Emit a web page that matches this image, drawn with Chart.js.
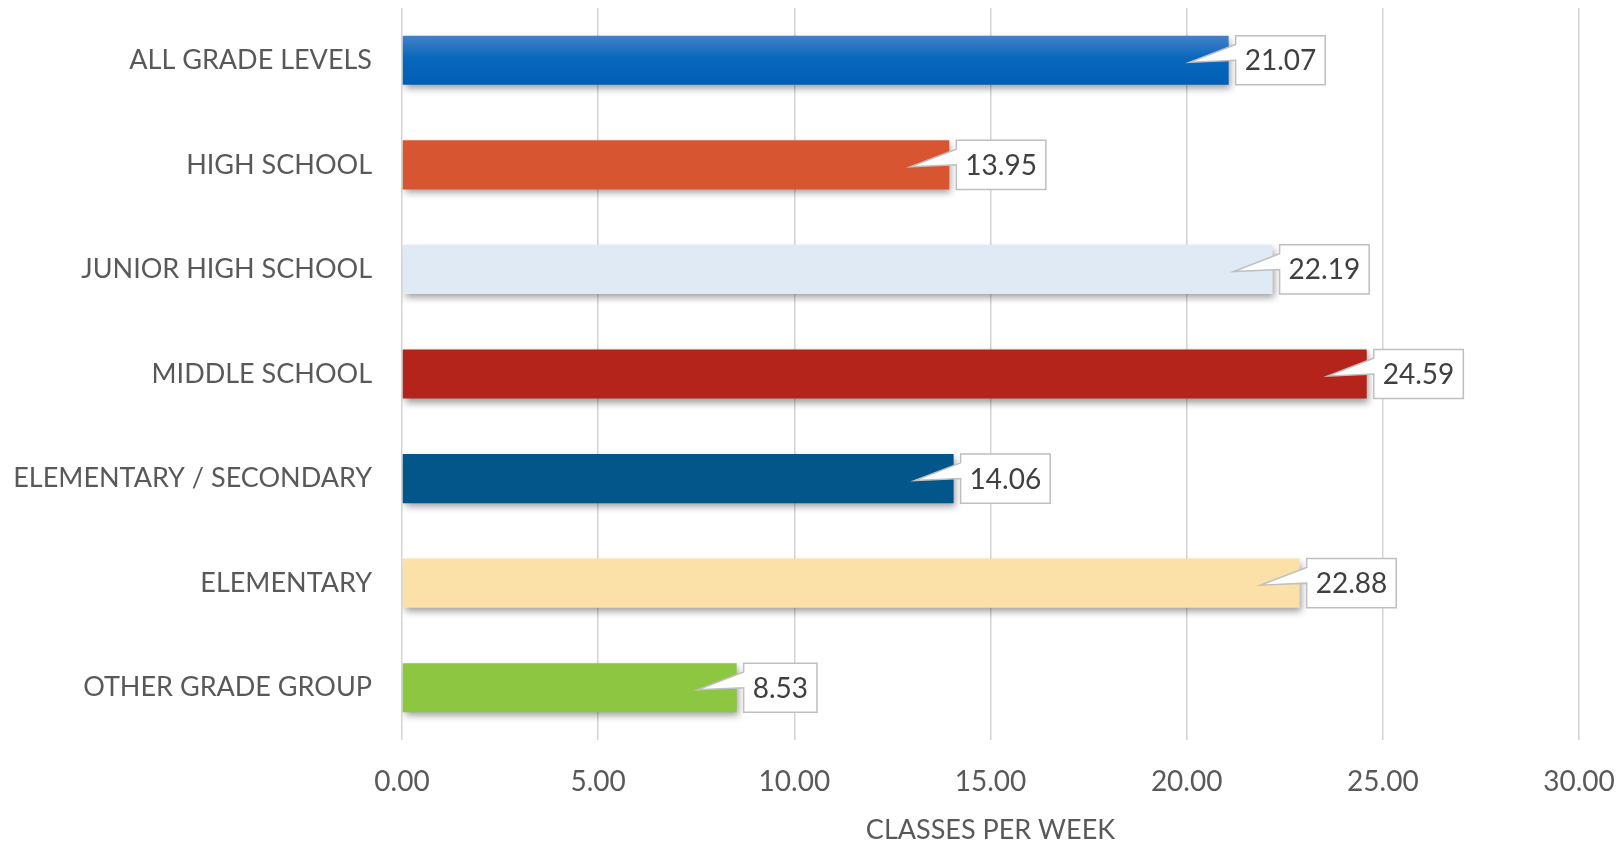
<!DOCTYPE html>
<html>
<head>
<meta charset="utf-8">
<script src="https://cdn.jsdelivr.net/npm/chart.js@4/dist/chart.umd.min.js"></script>
<style>
  html, body { margin: 0; padding: 0; background: #ffffff; }
  #wrap { width: 1618px; height: 843px; position: relative; }
</style>
</head>
<body>
<div id="wrap"><canvas id="c"></canvas></div>
<script>
const categories = [
  "ALL GRADE LEVELS",
  "HIGH SCHOOL",
  "JUNIOR HIGH SCHOOL",
  "MIDDLE SCHOOL",
  "ELEMENTARY / SECONDARY",
  "ELEMENTARY",
  "OTHER GRADE GROUP"
];
const classesPerWeek = [21.07, 13.95, 22.19, 24.59, 14.06, 22.88, 8.53];
const barColors = ["#0868bd", "#d85532", "#dfeaf4", "#b5241a", "#02568a", "#fbe1a8", "#8dc641"];
const xTicks = [0, 5, 10, 15, 20, 25, 30];
const axisTitle = "CLASSES PER WEEK";

const FONT = "Lato, 'Open Sans', sans-serif";
const TEXT = "#595959";
const BAR_PCT = 0.47;

function barFill(ctx) {
  const i = ctx.dataIndex;
  if (i !== 0) return barColors[i];
  const ys = ctx.chart.scales && ctx.chart.scales.y;
  if (!ys || !isFinite(ys.top) || ys.bottom - ys.top <= 0) return barColors[0];
  const cy = ys.getPixelForValue(0);
  const band = (ys.bottom - ys.top) / categories.length;
  const h = band * BAR_PCT;
  if (!isFinite(cy) || !isFinite(h)) return barColors[0];
  const g = ctx.chart.ctx.createLinearGradient(0, cy - h / 2, 0, cy + h / 2);
  g.addColorStop(0, "#4580c8");
  g.addColorStop(0.45, "#0868bd");
  g.addColorStop(1, "#005eb3");
  return g;
}

const shadowPlugin = {
  id: "barShadow",
  beforeDatasetsDraw(chart) {
    const ctx = chart.ctx;
    ctx.save();
    ctx.shadowColor = "rgba(0,0,0,0.38)";
    ctx.shadowBlur = 7;
    ctx.shadowOffsetX = 2;
    ctx.shadowOffsetY = 4;
  },
  afterDatasetsDraw(chart) {
    chart.ctx.restore();
  }
};

const calloutPlugin = {
  id: "callouts",
  afterDatasetsDraw(chart) {
    const ctx = chart.ctx;
    const meta = chart.getDatasetMeta(0);
    const data = chart.data.datasets[0].data;
    ctx.save();
    ctx.font = "28px " + FONT;
    meta.data.forEach((el, i) => {
      const txt = Number(data[i]).toFixed(2);
      const x = el.x, y = el.y, h = el.height;
      const tw = ctx.measureText(txt).width;
      const left = x + 7;
      const w = tw + 18;
      const top = y - h / 2, bot = y + h / 2;
      ctx.beginPath();
      ctx.moveTo(left, top);
      ctx.lineTo(left + w, top);
      ctx.lineTo(left + w, bot);
      ctx.lineTo(left, bot);
      ctx.lineTo(left, y);
      ctx.lineTo(x - 39, y + 2);
      ctx.lineTo(left, y - h * 0.32);
      ctx.closePath();
      ctx.fillStyle = "#ffffff";
      ctx.fill();
      ctx.lineWidth = 1.5;
      ctx.strokeStyle = "#bfbfbf";
      ctx.stroke();
      ctx.fillStyle = "#404040";
      ctx.textAlign = "left";
      ctx.textBaseline = "middle";
      ctx.fillText(txt, left + 9, y + 1);
    });
    ctx.restore();
  }
};

new Chart(document.getElementById("c"), {
  type: "bar",
  data: {
    labels: categories,
    datasets: [{
      data: classesPerWeek,
      backgroundColor: barFill,
      borderWidth: 0,
      categoryPercentage: 1,
      barPercentage: BAR_PCT
    }]
  },
  options: {
    indexAxis: "y",
    responsive: true,
    maintainAspectRatio: false,
    animation: false,
    devicePixelRatio: 1,
    layout: { padding: { top: 8, right: 39, bottom: 0, left: 0 } },
    plugins: {
      legend: { display: false },
      tooltip: { enabled: false }
    },
    scales: {
      x: {
        min: 0,
        max: 30,
        afterBuildTicks(scale) { scale.ticks = xTicks.map(v => ({ value: v })); },
        afterFit(scale) {
          scale.height = 103;
          scale.paddingLeft = 0;
          scale.paddingRight = 0;
        },
        border: { display: false },
        grid: { color: "#d4d4d4", lineWidth: 1.5, drawTicks: false },
        ticks: {
          padding: 25,
          color: TEXT,
          font: { family: FONT, size: 28 },
          callback: v => Number(v).toFixed(2)
        },
        title: {
          display: true,
          text: axisTitle,
          color: TEXT,
          font: { family: FONT, size: 27 },
          padding: { top: 0, bottom: -3 }
        }
      },
      y: {
        afterFit(scale) {
          scale.width = 402;
          scale.paddingTop = 0;
          scale.paddingBottom = 0;
        },
        border: { display: false },
        grid: { display: false, drawTicks: false },
        ticks: {
          padding: 30,
          color: TEXT,
          font: { family: FONT, size: 27 }
        }
      }
    }
  },
  plugins: [shadowPlugin, calloutPlugin]
});
</script>
</body>
</html>
